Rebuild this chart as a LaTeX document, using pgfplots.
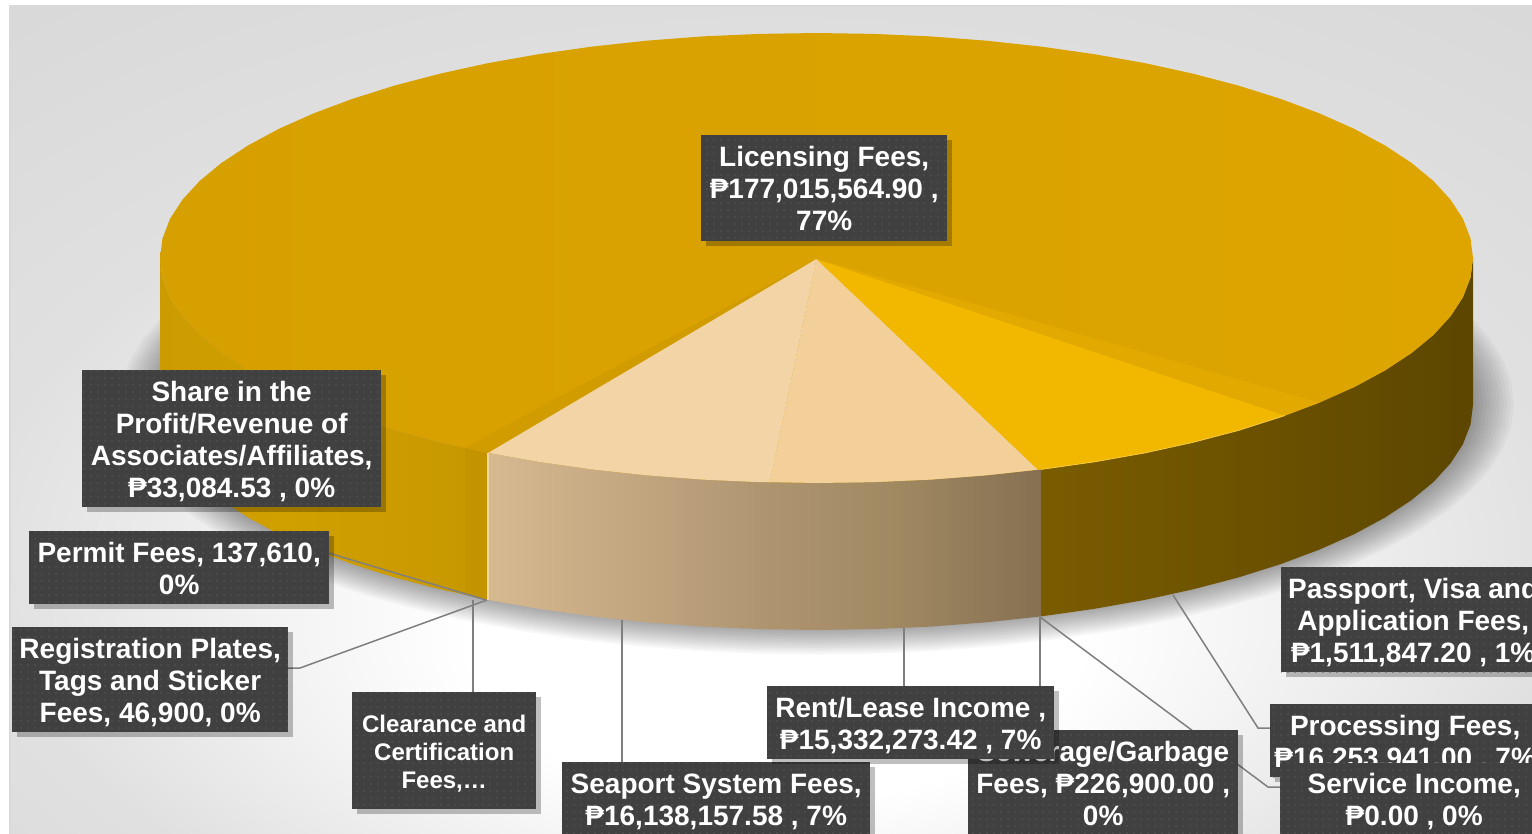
\documentclass[border=0pt]{standalone}
\usepackage{fontspec}
\setmainfont{Liberation Sans}
\usepackage{pgfplots}
\usepackage{pgfplotstable}
\pgfplotsset{compat=1.18}
\usetikzlibrary{patterns.meta,shadows}

\definecolor{goldsliver}{HTML}{D09C00}
\definecolor{goldside}{HTML}{C49400}
\definecolor{goldhi}{HTML}{F2B800}
\definecolor{goldpass}{HTML}{E2AA00}
\definecolor{beigeA}{HTML}{F2D4A6}
\definecolor{beigeB}{HTML}{F3CF9A}
\definecolor{boxc}{HTML}{404040}
\definecolor{boxdot}{HTML}{565656}
\definecolor{leader}{HTML}{7F7F7F}

\pgfdeclareradialshading{bgshade}{\pgfpoint{0bp}{-16bp}}{%
  color(0bp)=(white); color(10bp)=(white); color(26bp)=(black!12); color(38bp)=(black!15); color(48bp)=(black!24); color(50bp)=(black!24)}
\definecolor{ta}{HTML}{D6A000}
\definecolor{tb}{HTML}{DEA500}
\pgfdeclarehorizontalshading{topgold}{100bp}{%
  color(0bp)=(ta); color(25bp)=(ta); color(75bp)=(tb); color(100bp)=(tb)}
\definecolor{sa}{HTML}{CB9B00}
\definecolor{sb}{HTML}{D0A000}
\definecolor{sc}{HTML}{C89800}
\pgfdeclarehorizontalshading{sideleft}{100bp}{%
  color(0bp)=(sa); color(25bp)=(sa); color(45bp)=(sb); color(75bp)=(sc); color(100bp)=(sc)}
\definecolor{ba}{HTML}{D6B98F}
\definecolor{bb}{HTML}{C4A882}
\definecolor{bc}{HTML}{AE9570}
\definecolor{bd}{HTML}{A08861}
\definecolor{be}{HTML}{857052}
\pgfdeclarehorizontalshading{sidebeige}{100bp}{%
  color(0bp)=(ba); color(25bp)=(ba); color(37bp)=(bb); color(50bp)=(bc); color(62bp)=(bd); color(75bp)=(be); color(100bp)=(be)}
\definecolor{ra}{HTML}{7A5C00}
\definecolor{rb}{HTML}{6B5100}
\definecolor{rc}{HTML}{5C4600}
\pgfdeclarehorizontalshading{sideright}{100bp}{%
  color(0bp)=(ra); color(25bp)=(ra); color(50bp)=(rb); color(75bp)=(rc); color(100bp)=(rc)}

\pgfplotstableread{
x y
1473 258
1470.5 277.6
1463 297.1
1450.6 316.2
1433.4 335
1411.5 353.1
1385 370.5
1354.3 387.1
1319.4 402.6
1280.7 417.1
1238.5 430.4
1193.1 442.3
1144.8 452.9
1093.9 461.9
1041 469.4
986.4 475.3
930.5 479.6
873.7 482.1
816.5 483
759.3 482.1
702.5 479.6
646.6 475.3
592 469.4
539.1 461.9
488.2 452.9
439.9 442.3
394.5 430.4
352.3 417.1
313.6 402.6
278.7 387.1
248 370.5
221.5 353.1
199.6 335
182.4 316.2
170 297.1
162.5 277.6
160 258
162.5 238.4
170 218.9
182.4 199.8
199.6 181
221.5 162.9
248 145.5
278.7 128.9
313.6 113.4
352.3 98.9
394.5 85.6
439.9 73.7
488.2 63.1
539.1 54.1
592 46.6
646.6 40.7
702.5 36.4
759.3 33.9
816.5 33
873.7 33.9
930.5 36.4
986.4 40.7
1041 46.6
1093.9 54.1
1144.8 63.1
1193.1 73.7
1238.5 85.6
1280.7 98.9
1319.4 113.4
1354.3 128.9
1385 145.5
1411.5 162.9
1433.4 181
1450.6 199.8
1463 218.9
1470.5 238.4
}\ellipsepts

\tikzset{
  lab/.style={anchor=north west, inner sep=0pt, align=center, text=white,
    fill=boxc, postaction={pattern={Dots[distance=7pt,radius=0.8pt]}, pattern color=boxdot},
    drop shadow={shadow xshift=5pt, shadow yshift=-5pt, opacity=.25, fill=black},
    font=\bfseries\fontsize{28}{32}\selectfont},
}
% pushes a label's text down inside its box
\newcommand{\dn}[1]{\rule{0pt}{#1pt}}

\begin{document}
\begin{tikzpicture}
\path[use as bounding box, clip] (0,0) rectangle (1532pt,833pt);
\begin{axis}[
  scale only axis,
  width=1532pt, height=833pt,
  xmin=0, xmax=1532, ymin=0, ymax=833,
  y dir=reverse,
  hide axis,
  clip=false,
]
% background
\addplot[draw=none, shade, shading=bgshade] coordinates {(10,6) (1540,6) (1540,840) (10,840)};
\addplot[draw=black!15, line width=1.2pt] coordinates {(10,840) (10,6) (1540,6)};

% soft shadow under the pie
\pgfplotsinvokeforeach{12,11,10,9,8,7,6,5,4,3,2,1}{
  \addplot[draw=none, fill=black, fill opacity=.03] table[
    x expr={816.5+(\thisrow{x}-816.5)*(1+#1*.0052)},
    y expr={404+(\thisrow{y}-258)*(1+#1*.0095)}] {\ellipsepts};
}

% side of the pie
\addplot[draw=none, shade, shading=sideleft] coordinates {
(465,447.6) (439.9,442.3) (394.5,430.4) (352.3,417.1) (313.6,402.6) (278.7,387.1) (248,370.5) (221.5,353.1) (199.6,335) (182.4,316.2) (170,297.1) (162.5,277.6) (160,258)
(160,405) (162.5,424.6) (170,444.1) (182.4,463.2) (199.6,482) (221.5,500.1) (248,517.5) (278.7,534.1) (313.6,549.6) (352.3,564.1) (394.5,577.4) (439.9,589.3) (465,594.6)};
\addplot[draw=none, fill=goldside] coordinates {
(488.2,452.9) (465,447.6) (465,594.6) (488.2,599.9)};
\addplot[draw=none, shade, shading=sidebeige] coordinates {
(1041,469.4) (986.4,475.3) (930.5,479.6) (873.7,482.1) (816.5,483) (759.3,482.1) (702.5,479.6) (646.6,475.3) (592,469.4) (539.1,461.9) (488.2,452.9)
(488.2,599.9) (539.1,608.9) (592,616.4) (646.6,622.3) (702.5,626.6) (759.3,629.1) (816.5,630) (873.7,629.1) (930.5,626.6) (986.4,622.3) (1041,616.4)};
\addplot[draw=none, shade, shading=sideright] coordinates {
(1473,258) (1470.5,277.6) (1463,297.1) (1450.6,316.2) (1433.4,335) (1411.5,353.1) (1385,370.5) (1354.3,387.1) (1319.4,402.6) (1280.7,417.1) (1238.5,430.4) (1193.1,442.3) (1144.8,452.9) (1093.9,461.9) (1041,469.4)
(1041,616.4) (1093.9,608.9) (1144.8,599.9) (1193.1,589.3) (1238.5,577.4) (1280.7,564.1) (1319.4,549.6) (1354.3,534.1) (1385,517.5) (1411.5,500.1) (1433.4,482) (1450.6,463.2) (1463,444.1) (1470.5,424.6) (1473,405)};
\addplot[draw=beigeA, line width=1.5pt] coordinates {(488.2,452.9) (488.2,599.9)};

% top of the pie
\addplot[draw=none, shade, shading=topgold] table[x=x, y=y] {\ellipsepts};
\addplot[draw=none, fill=goldsliver] coordinates {(816.5,259) (488.2,452.9) (465,447.6)};
\addplot[draw=none, fill=beigeA] coordinates {
(816.5,259) (770,482) (759.3,482.1) (702.5,479.6) (646.6,475.3) (592,469.4) (539.1,461.9) (488.2,452.9)};
\addplot[draw=none, fill=beigeB] coordinates {
(816.5,259) (1038,469.6) (986.4,475.3) (930.5,479.6) (873.7,482.1) (816.5,483) (770,482)};
\addplot[draw=none, fill=goldhi] coordinates {
(816.5,259) (1285,415.5) (1238.5,430.4) (1193.1,442.3) (1144.8,452.9) (1093.9,461.9) (1041,469.4) (1038,469.6)};
\addplot[draw=none, fill=goldpass] coordinates {
(816.5,259) (1319.4,402.6) (1285,415.5)};
\addplot[draw=goldhi!75!white, line width=.8pt] coordinates {
(1285,415.5) (1238.5,430.4) (1193.1,442.3) (1144.8,452.9) (1093.9,461.9) (1041,469.4)};

% leader lines
\addplot[draw=leader, line width=1.5pt] coordinates {(329,553) (345,558) (486,600)};
\addplot[draw=leader, line width=1.5pt] coordinates {(288,668) (300,668) (487,600)};
\addplot[draw=leader, line width=1.5pt] coordinates {(473,700) (473,600)};
\addplot[draw=leader, line width=1.5pt] coordinates {(622,770) (622,620)};
\addplot[draw=leader, line width=1.5pt] coordinates {(904,690) (904,628)};
\addplot[draw=leader, line width=1.5pt] coordinates {(1040,735) (1040,617)};
\addplot[draw=leader, line width=1.5pt] coordinates {(1040,617) (1268,787) (1285,787)};
\addplot[draw=leader, line width=1.5pt] coordinates {(1173,595) (1258,728) (1275,728)};

% data labels
\node[lab, minimum width=246pt, minimum height=106pt] at (axis cs:701,135) {Licensing Fees,\\₱177,015,564.90 ,\\77\%};
\node[lab, minimum width=299pt, minimum height=137pt] at (axis cs:82,370) {\dn{26}Share in the\\Profit/Revenue of\\Associates/Affiliates,\\₱33,084.53 , 0\%};
\node[lab, minimum width=300pt, minimum height=73pt] at (axis cs:29,531) {\dn{22}Permit Fees, 137,610,\\0\%};
\node[lab, minimum width=276pt, minimum height=105pt] at (axis cs:12,627) {\dn{26}Registration Plates,\\Tags and Sticker\\Fees, 46,900, 0\%};
\node[lab, minimum width=184pt, minimum height=117pt, font=\bfseries\fontsize{24}{28}\selectfont] at (axis cs:352,692) {\dn{23}Clearance and\\Certification\\Fees,\dots};
\node[lab, minimum width=308pt, minimum height=79pt] at (axis cs:562,762) {Seaport System Fees,\\₱16,138,157.58 , 7\%};
\node[lab, minimum width=270pt, minimum height=106pt] at (axis cs:968,730) {Sewerage/Garbage\\Fees, ₱226,900.00 ,\\0\%};
\node[lab, minimum width=287pt, minimum height=73pt] at (axis cs:767,686) {\dn{26}Rent/Lease Income ,\\₱15,332,273.42 , 7\%};
\node[lab, minimum width=264pt, minimum height=105pt] at (axis cs:1281,567) {\dn{26}Passport, Visa and\\Application Fees,\\₱1,511,847.20 , 1\%};
\node[lab, minimum width=270pt, minimum height=73pt] at (axis cs:1270,704) {\dn{26}Processing Fees,\\₱16,253,941.00 , 7\%};
\node[lab, minimum width=268pt, minimum height=77pt] at (axis cs:1280,763) {Service Income,\\₱0.00 , 0\%};
\end{axis}
\end{tikzpicture}
\end{document}
